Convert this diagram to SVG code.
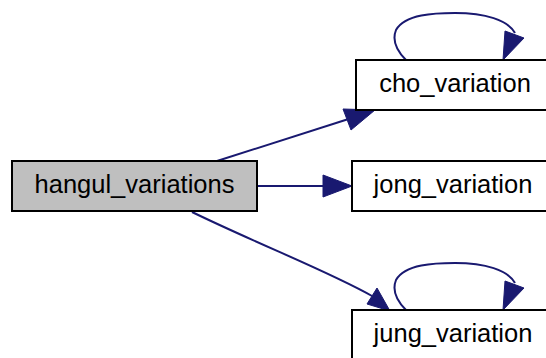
<svg xmlns="http://www.w3.org/2000/svg" width="546" height="358" viewBox="0 0 546 358">
<style>
.node rect{stroke:#000;stroke-width:2;fill:#fff}
.node.main rect{fill:#bfbfbf}
.node text{font-family:"Liberation Sans",Arial,Helvetica,sans-serif;font-size:25.5px;fill:#000;text-anchor:middle}
.edge path{fill:none;stroke:#191970;stroke-width:2}
.edge polygon{fill:#191970;stroke:#191970;stroke-width:1}
</style>
<rect width="546" height="358" fill="#fff"/>
<g id="connectors" class="edge">
<path d="M217,161 L347,119.5"/>
<polygon points="343,109 375,110 351,130"/>
<path d="M257,186 L324,186"/>
<polygon points="323,175 352,186 323,197"/>
<path d="M192,212 C260,245 330,272 372,296"/>
<polygon points="377,288 390,311 367,304"/>
<path d="M406,60 C396,50 392,40 396,30 C405,14 435,13 455,13 C485,13 508,20 515,33"/>
<polygon points="505,31 524,38 503,60"/>
<path d="M406,310 C396,300 392,290 396,280 C405,264 435,263 455,263 C485,263 508,270 515,283"/>
<polygon points="505,281 524,288 503,310"/>
</g>
<g id="hangul_variations" class="node main">
<rect x="12" y="161" width="245" height="50"/>
<text x="134.5" y="193">hangul_variations</text>
</g>
<g id="cho_variation" class="node">
<rect x="356" y="60" width="200" height="50"/>
<text x="455" y="92">cho_variation</text>
</g>
<g id="jong_variation" class="node">
<rect x="352" y="161" width="204" height="50"/>
<text x="453" y="193">jong_variation</text>
</g>
<g id="jung_variation" class="node">
<rect x="352" y="310" width="204" height="50"/>
<text x="453" y="341.5">jung_variation</text>
</g>
</svg>
